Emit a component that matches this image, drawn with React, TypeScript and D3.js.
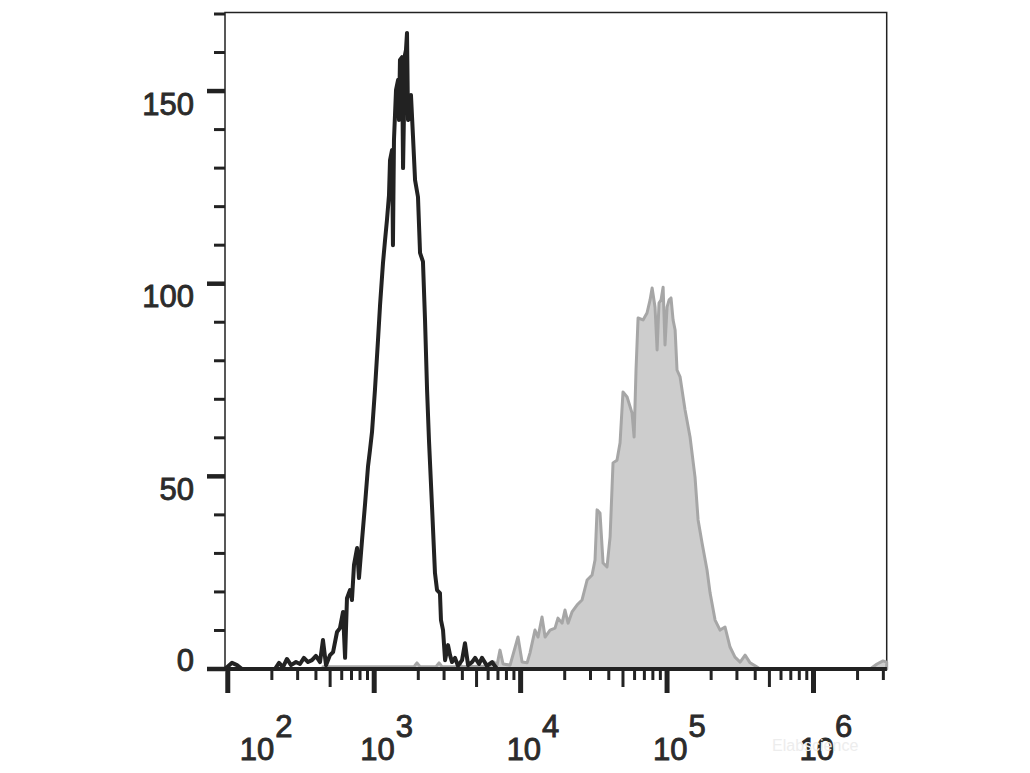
import { useEffect, useRef } from "react";
import * as d3 from "d3";

// log10 of channel value, and event count
const blackLog = [
  1.981, 2.029, 2.063, 2.097, 2.322, 2.35, 2.377, 2.404, 2.432, 2.466, 2.493, 2.52, 2.548, 2.575, 2.602,
  2.63, 2.65, 2.671, 2.698, 2.719, 2.746, 2.766, 2.787, 2.801, 2.814, 2.835, 2.848, 2.862, 2.883, 2.896,
  2.917, 2.937, 2.958, 2.971, 2.985, 3.005, 3.026, 3.04, 3.06, 3.074, 3.087, 3.101, 3.108, 3.122, 3.128,
  3.135, 3.149, 3.163, 3.169, 3.176, 3.19, 3.197, 3.21, 3.217, 3.224, 3.231, 3.245, 3.251, 3.265, 3.279,
  3.299, 3.313, 3.333, 3.347, 3.361, 3.374, 3.395, 3.415, 3.429, 3.449, 3.456, 3.47, 3.484, 3.504, 3.518,
  3.531, 3.552, 3.572, 3.6, 3.62, 3.641, 3.668, 3.689, 3.716, 3.736, 3.77, 3.805, 3.839, 6.5,
];
const blackCount = [
  0, 1.6, 1.0, 0, 0, 1.6, 0.5, 2.6, 1.0, 1.8, 1.3, 2.9, 1.8, 2.3, 3.4,
  1.8, 7.5, 1.0, 3.6, 4.4, 9.6, 10.6, 14.8, 2.9, 18.4, 20.5, 17.9, 27.0, 31.4, 23.6,
  33.5, 42.6, 52.7, 56.8, 61.5, 72.4, 85.4, 94.5, 105.4, 111.3, 116.5, 123.0, 132.1, 134.7, 110.0,
  137.3, 150.3, 152.9, 142.5, 158.1, 158.8, 130.0, 159.4, 160.7, 165.1, 142.5, 143.0, 149.0, 138.1, 126.9,
  122.5, 108.0, 105.7, 90.6, 72.4, 59.4, 42.0, 24.9, 20.5, 19.7, 12.7, 10.1, 2.3, 6.2, 3.6,
  1.8, 2.9, 0.8, 2.3, 6.7, 1.0, 1.8, 2.9, 1.3, 2.9, 0.8, 1.8, 0, 0,
];

const grayLog = [
  2.65, 3.272, 3.292, 3.313, 3.422, 3.443, 3.463, 3.559, 3.579, 3.6, 3.791, 3.818, 3.839, 3.859, 3.88,
  3.928, 3.982, 4.01, 4.044, 4.064, 4.098, 4.119, 4.146, 4.167, 4.201, 4.235, 4.255, 4.283, 4.303, 4.324,
  4.351, 4.385, 4.419, 4.454, 4.488, 4.508, 4.522, 4.542, 4.563, 4.59, 4.611, 4.631, 4.658, 4.679, 4.699,
  4.727, 4.761, 4.775, 4.788, 4.802, 4.836, 4.863, 4.884, 4.898, 4.918, 4.932, 4.945, 4.959, 4.973, 4.986,
  5.0, 5.014, 5.027, 5.041, 5.055, 5.068, 5.089, 5.123, 5.157, 5.191, 5.212, 5.239, 5.273, 5.294, 5.328,
  5.362, 5.396, 5.43, 5.464, 5.499, 5.533, 5.567, 5.615, 5.635, 6.387, 6.434, 6.475, 6.5,
];
const grayCount = [
  0.6, 0.6, 1.6, 0.6, 0.6, 1.6, 0.6, 0.6, 1.3, 0.6, 0.8, 1.8, 1.0, 4.9, 1.3,
  1.0, 8.3, 1.8, 1.6, 4.2, 10.1, 8.3, 13.5, 8.3, 10.1, 10.6, 13.2, 11.9, 15.3, 11.9,
  14.8, 16.6, 17.9, 23.1, 24.4, 28.3, 41.3, 40.5, 27.5, 26.5, 34.3, 53.5, 54.2, 58.7, 71.9,
  70.6, 66.4, 60.2, 77.6, 91.1, 90.6, 92.4, 95.8, 98.9, 93.9, 82.8, 95.0, 95.8, 99.1, 84.1,
  93.9, 95.8, 96.3, 90.6, 88.0, 77.6, 75.8, 67.2, 60.2, 49.8, 38.7, 32.7, 25.7, 19.7, 12.7,
  10.1, 10.9, 5.7, 3.1, 1.8, 3.6, 1.6, 0.5, 0, 0, 1.3, 2.1, 1.8,
];

const xDecades = [2, 3, 4, 5, 6];
const yLabelled = [0, 50, 100, 150];

const FONT = "'Liberation Sans', Arial, sans-serif";
const INK = "#222";
const LABEL = "#2b2b2b";

export default function App() {
  const ref = useRef<SVGSVGElement | null>(null);

  useEffect(() => {
    const svgEl = ref.current;
    if (!svgEl) return;
    const svg = d3.select(svgEl);
    svg.selectAll("*").remove();

    const left = 225, right = 886.7, top = 14, bottom = 669;
    const x = d3.scaleLog().domain([10 ** 1.981, 10 ** 6.5]).range([left, right]);
    const y = d3.scaleLinear().domain([0, 170]).range([bottom, top]);

    const black = blackLog.map((l, i) => [10 ** l, blackCount[i]] as [number, number]);
    const gray = grayLog.map((l, i) => [10 ** l, grayCount[i]] as [number, number]);

    // frame
    svg.append("path")
      .attr("d", `M${left},${bottom} V${top - 1.5} H${right} V${bottom}`)
      .attr("fill", "none")
      .attr("stroke", INK)
      .attr("stroke-width", 1.5);

    // gray filled histogram
    const area = d3.area<[number, number]>()
      .x((d) => x(d[0]))
      .y0(y(0))
      .y1((d) => y(d[1]));
    svg.append("path")
      .datum(gray)
      .attr("d", area)
      .attr("fill", "#cdcdcd")
      .attr("stroke", "#a6a6a6")
      .attr("stroke-width", 3)
      .attr("stroke-linejoin", "round");

    // y axis ticks
    const yt = svg.append("g");
    yt.selectAll("line")
      .data(y.ticks(17))
      .join("line")
      .attr("x1", (d) => (d % 50 === 0 ? 207 : 214))
      .attr("x2", left)
      .attr("y1", (d) => y(d))
      .attr("y2", (d) => y(d))
      .attr("stroke", INK)
      .attr("stroke-width", (d) => (d % 50 === 0 ? 4.5 : 3));
    yt.selectAll("text")
      .data(yLabelled)
      .join("text")
      .attr("x", 194)
      .attr("y", (d) => (d === 0 ? 671 : y(d) + 23.5))
      .attr("text-anchor", "end")
      .attr("fill", LABEL)
      .attr("stroke", LABEL)
      .attr("stroke-width", 0.9)
      .style("font", `31px ${FONT}`)
      .text((d) => String(d));

    // x axis line + ticks
    svg.append("line")
      .attr("x1", 207).attr("x2", right)
      .attr("y1", bottom).attr("y2", bottom)
      .attr("stroke", INK)
      .attr("stroke-width", 4);

    const xt = svg.append("g");
    const kind = (v: number) => {
      const l = Math.log10(v);
      if (Math.abs(l - Math.round(l)) < 1e-6) return 2;
      const lead = Math.round(v / 10 ** Math.floor(l));
      return lead === 5 ? 1 : 0;
    };
    xt.selectAll("line")
      .data(x.ticks().filter((v) => x(v) >= left - 0.5 && x(v) <= right + 0.5))
      .join("line")
      .attr("x1", (d) => x(d))
      .attr("x2", (d) => x(d))
      .attr("y1", bottom + 2)
      .attr("y2", (d) => [680, 687, 693][kind(d)])
      .attr("stroke", INK)
      .attr("stroke-width", (d) => (kind(d) === 2 ? 5 : 3));

    // watermark
    svg.append("text")
      .attr("x", 772)
      .attr("y", 751)
      .attr("fill", "#ededed")
      .style("font", `16px ${FONT}`)
      .text("Elabscience");

    const lab = xt.selectAll("text.lab")
      .data(xDecades)
      .join("text")
      .attr("class", "lab")
      .attr("x", (d) => x(10 ** d) + (d === 2 ? 12 : -14))
      .attr("y", 760)
      .attr("fill", LABEL)
      .attr("stroke", LABEL)
      .attr("stroke-width", 0.9)
      .style("font", `31px ${FONT}`);
    lab.append("tspan").text("10");
    lab.append("tspan").attr("dx", 1).attr("dy", -23).text((d) => String(d));

    // black line histogram on top
    const line = d3.line<[number, number]>()
      .x((d) => x(d[0]))
      .y((d) => y(d[1]));
    svg.append("path")
      .datum(black)
      .attr("d", line)
      .attr("fill", "none")
      .attr("stroke", INK)
      .attr("stroke-width", 4)
      .attr("stroke-linejoin", "round");
  }, []);

  return (
    <div style={{ position: "absolute", left: 0, top: 0 }}>
      <svg ref={ref} width={1030} height={773} style={{ display: "block", background: "#fff" }} />
    </div>
  );
}
